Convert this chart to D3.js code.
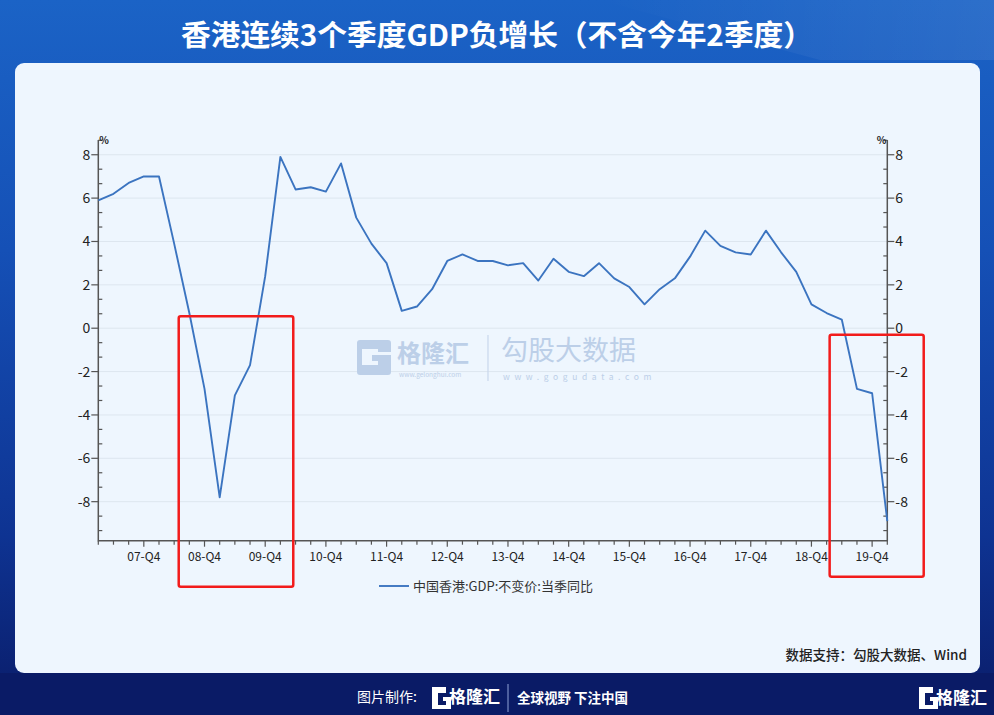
<!DOCTYPE html>
<html><head><meta charset="utf-8">
<script src="https://cdn.jsdelivr.net/npm/d3@7"></script>
<style>
html,body{margin:0;padding:0;background:#0b1d6a;}
svg{display:block;font-family:"Noto Sans CJK SC","Noto Sans",sans-serif;}
</style></head>
<body>
<svg id="c" width="994" height="715"></svg>
<script>
// ---- data ----
const quarters = [
 "07-Q1","07-Q2","07-Q3","07-Q4","08-Q1","08-Q2","08-Q3","08-Q4",
 "09-Q1","09-Q2","09-Q3","09-Q4","10-Q1","10-Q2","10-Q3","10-Q4",
 "11-Q1","11-Q2","11-Q3","11-Q4","12-Q1","12-Q2","12-Q3","12-Q4",
 "13-Q1","13-Q2","13-Q3","13-Q4","14-Q1","14-Q2","14-Q3","14-Q4",
 "15-Q1","15-Q2","15-Q3","15-Q4","16-Q1","16-Q2","16-Q3","16-Q4",
 "17-Q1","17-Q2","17-Q3","17-Q4","18-Q1","18-Q2","18-Q3","18-Q4",
 "19-Q1","19-Q2","19-Q3","19-Q4","20-Q1"];
const gdpYoY = [
 5.9,6.2,6.7,7.0, 7.0,3.9,0.7,-2.8,
 -7.8,-3.1,-1.7,2.4, 7.9,6.4,6.5,6.3,
 7.6,5.1,3.9,3.0, 0.8,1.0,1.8,3.1,
 3.4,3.1,3.1,2.9, 3.0,2.2,3.2,2.6,
 2.4,3.0,2.3,1.9, 1.1,1.8,2.3,3.3,
 4.5,3.8,3.5,3.4, 4.5,3.5,2.6,1.1,
 0.7,0.4,-2.8,-3.0, -8.9];
const xTickLabels = ["07-Q4","08-Q4","09-Q4","10-Q4","11-Q4","12-Q4","13-Q4","14-Q4","15-Q4","16-Q4","17-Q4","18-Q4","19-Q4"];
const yTicks = [-8,-6,-4,-2,0,2,4,6,8];
const seriesName = "中国香港:GDP:不变价:当季同比";
const titleText = "香港连续3个季度GDP负增长（不含今年2季度）";
const sourceText = "数据支持：勾股大数据、Wind";
// highlight ranges (quarter index span, top value)
const highlights = [{from:5.3,to:12.85,top:0.55,ext:46},{from:48.2,to:54.4,top:-0.3,ext:36}];

const svg = d3.select("#c");
const W=994,H=715;
const defs = svg.append("defs");
const bg = defs.append("linearGradient").attr("id","bg").attr("x1",0).attr("y1",0).attr("x2",0).attr("y2",1);
bg.append("stop").attr("offset","0%").attr("stop-color","#1b63c6");
bg.append("stop").attr("offset","35%").attr("stop-color","#1550b6");
bg.append("stop").attr("offset","75%").attr("stop-color","#0e3392");
bg.append("stop").attr("offset","100%").attr("stop-color","#0a1c68");
svg.append("rect").attr("width",W).attr("height",H).attr("fill","url(#bg)");
const sh = defs.append("linearGradient").attr("id","sh").attr("x1",0).attr("y1",0).attr("x2",1).attr("y2",0);
sh.append("stop").attr("offset","0%").attr("stop-color","#ffffff").attr("stop-opacity",0);
sh.append("stop").attr("offset","100%").attr("stop-color","#ffffff").attr("stop-opacity",0.08);
svg.append("path").attr("d","M600,0 L994,0 L994,60 L820,60 Z").attr("fill","url(#sh)");
svg.append("rect").attr("x",0).attr("y",673).attr("width",W).attr("height",42).attr("fill","#0a1b66");

// title
svg.append("text").attr("x",497).attr("y",46).attr("text-anchor","middle")
  .attr("fill","#fff").attr("font-size",29).attr("font-weight",700)
  .attr("textLength",632).attr("lengthAdjust","spacingAndGlyphs").text(titleText);

// panel
svg.append("rect").attr("x",15).attr("y",63).attr("width",965).attr("height",610).attr("rx",9)
  .attr("fill","#eef6fe");

// scales
const x = d3.scaleLinear().domain([0,quarters.length-1]).range([98.3,887.3]);
const y = d3.scaleLinear().domain([-9.8,8.68]).range([540.7,140]);
const x0=x.range()[0], x1=x.range()[1], yb=y.range()[0], yt=y.range()[1];

// grid
svg.append("g").selectAll("line").data(yTicks).join("line")
  .attr("x1",x0).attr("x2",x1).attr("y1",d=>y(d)).attr("y2",d=>y(d))
  .attr("stroke","#dde6ef").attr("stroke-width",1);

// watermark
const wm = svg.append("g").attr("fill","#bccfe8");
wm.append("path").attr("d","M360,340 h28 a3,3 0 0 1 3,3 v9 h-13 v-3 h-16 v16 h16 v-4 h-6 v-6 h19 v17 a3,3 0 0 1 -3,3 h-28 a3,3 0 0 1 -3,-3 v-29 a3,3 0 0 1 3,-3 z");
wm.append("text").attr("x",397).attr("y",362).attr("font-size",24).attr("font-weight",700).text("格隆汇");
wm.append("text").attr("x",399).attr("y",377).attr("font-size",6.5).text("www.gelonghui.com");
wm.append("line").attr("x1",488).attr("x2",488).attr("y1",335).attr("y2",381).attr("stroke","#c9d8ec").attr("stroke-width",1.2);
wm.append("text").attr("x",501).attr("y",360).attr("font-size",27).text("勾股大数据");
wm.append("text").attr("x",503).attr("y",380).attr("font-size",8.5).attr("letter-spacing",4.6).text("www.gogudata.com");

// axes
const axisColor="#555";
const ax = svg.append("g").attr("stroke",axisColor).attr("stroke-width",1.5).attr("fill","none");
ax.append("path").attr("d",`M${x0},${yt}V${yb}H${x1}V${yt}`);
const minor = d3.range(-15,14).map(i=>i*2/3).filter(v=>v>=y.domain()[0]&&v<=y.domain()[1]&&Math.abs(v/2-Math.round(v/2))>0.01);
ax.selectAll("line.ml").data(minor).join("line")
  .attr("x1",x0).attr("x2",x0+4).attr("y1",d=>y(d)).attr("y2",d=>y(d)).attr("stroke-width",1.2);
ax.selectAll("line.mr").data(minor).join("line")
  .attr("x1",x1).attr("x2",x1-4).attr("y1",d=>y(d)).attr("y2",d=>y(d)).attr("stroke-width",1.2);
ax.selectAll("line.Ml").data(yTicks).join("line")
  .attr("x1",x0-7).attr("x2",x0).attr("y1",d=>y(d)).attr("y2",d=>y(d)).attr("stroke-width",1.2);
ax.selectAll("line.Mr").data(yTicks).join("line")
  .attr("x1",x1).attr("x2",x1+7).attr("y1",d=>y(d)).attr("y2",d=>y(d)).attr("stroke-width",1.2);
// x ticks
ax.selectAll("line.xt").data(d3.range(0,quarters.length)).join("line")
  .attr("x1",d=>x(d)).attr("x2",d=>x(d)).attr("y1",yb).attr("y2",d=>yb+(xTickLabels.includes(quarters[d])?6:4)).attr("stroke-width",1.2);

const lab = svg.append("g").attr("fill","#222");
lab.selectAll("text.yl").data(yTicks).join("text")
  .attr("x",x0-8).attr("y",d=>y(d)+5).attr("text-anchor","end").attr("font-size",14).text(d=>d);
lab.selectAll("text.yr").data(yTicks).join("text")
  .attr("x",x1+8).attr("y",d=>y(d)+5).attr("text-anchor","start").attr("font-size",14).text(d=>d);
lab.selectAll("text.xl").data(xTickLabels).join("text")
  .attr("x",d=>x(quarters.indexOf(d))).attr("y",yb+20).attr("text-anchor","middle").attr("font-size",12).text(d=>d);
lab.append("text").attr("x",x0+1).attr("y",yt+4).attr("font-size",10).attr("font-weight",700).text("%");
lab.append("text").attr("x",x1-1).attr("y",yt+4).attr("text-anchor","end").attr("font-size",10).attr("font-weight",700).text("%");

// line
const line = d3.line().x((d,i)=>x(i)).y(d=>y(d));
svg.append("path").datum(gdpYoY).attr("d",line).attr("fill","none")
  .attr("stroke","#3b74c0").attr("stroke-width",1.9).attr("stroke-linejoin","round");

// legend
svg.append("line").attr("x1",379).attr("x2",409).attr("y1",586).attr("y2",586).attr("stroke","#3b74c0").attr("stroke-width",1.9);
svg.append("text").attr("x",413).attr("y",591).attr("font-size",13).attr("fill","#333").text(seriesName);

// highlight boxes
svg.append("g").selectAll("rect").data(highlights).join("rect")
  .attr("x",d=>x(d.from)).attr("y",d=>y(d.top)).attr("width",d=>x(d.to)-x(d.from))
  .attr("height",d=>yb+d.ext-y(d.top)).attr("rx",2)
  .attr("fill","none").attr("stroke","#f21b1b").attr("stroke-width",2.5);

// source
svg.append("text").attr("x",967).attr("y",660).attr("text-anchor","end").attr("font-size",13.5)
  .attr("fill","#222").attr("font-weight",500).text(sourceText);

// footer
const ft = svg.append("g").attr("fill","#fff");
ft.append("text").attr("x",357).attr("y",702).attr("font-size",14).text("图片制作:");
ft.append("path").attr("d","M432,687 h14 v6 h-8 v12 h8 v-4 h-3 v-4 h8 v12 h-19 z");
ft.append("text").attr("x",449).attr("y",703).attr("font-size",17).attr("font-weight",700).text("格隆汇");
ft.append("line").attr("x1",508).attr("x2",508).attr("y1",684).attr("y2",712).attr("stroke","#8fa3d6").attr("stroke-width",1);
ft.append("text").attr("x",517).attr("y",703).attr("font-size",13.5).attr("font-weight",700).text("全球视野 下注中国");
ft.append("path").attr("d","M919,687 h14 v6 h-8 v12 h8 v-4 h-3 v-4 h8 v12 h-19 z");
ft.append("text").attr("x",936).attr("y",704).attr("font-size",17).attr("font-weight",700).text("格隆汇");
</script>
</body></html>
